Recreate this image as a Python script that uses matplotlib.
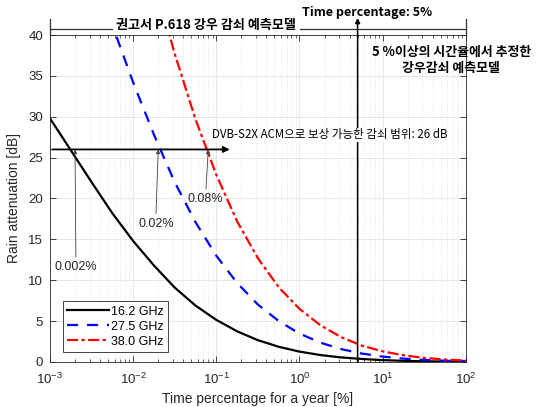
import numpy as np
import matplotlib
matplotlib.use('Agg')
import matplotlib.pyplot as plt
from matplotlib.ticker import LogLocator, NullFormatter

# time percentage of an average year [%]
time_pct = [0.001, 0.00178, 0.00316, 0.00562, 0.01, 0.0178, 0.0316, 0.0562,
            0.1, 0.178, 0.316, 0.562, 1, 1.78, 3.16, 5.62, 10, 17.8, 31.6, 56.2, 100]
# rain attenuation [dB] per carrier frequency
att_16g = [29.8, 25.9, 22.0, 18.2, 14.8, 11.8, 9.1, 6.9, 5.15, 3.75, 2.67, 1.86,
           1.27, 0.85, 0.56, 0.37, 0.23, 0.14, 0.08, 0.05, 0.03]
att_27g = [63.4, 56.1, 48.6, 41.2, 34.2, 27.8, 22.0, 17.1, 13.0, 9.66, 7.03, 5.01,
           3.48, 2.37, 1.58, 1.03, 0.66, 0.41, 0.25, 0.15, 0.09]
att_38g = [100.2, 89.9, 78.9, 67.8, 57.0, 46.9, 37.7, 29.7, 22.9, 17.2, 12.7, 9.15,
           6.5, 4.5, 3.05, 2.0, 1.3, 0.82, 0.5, 0.3, 0.18]
freq_labels = ['16.2 GHz', '27.5 GHz', '38.0 GHz']

acm_range = 26          # dB covered by DVB-S2X ACM
cross_pct = [0.002, 0.02, 0.08]
cross_text = ['0.002%', '0.02%', '0.08%']
model_limit = 5         # % boundary between the two models

LATIN = ['Liberation Sans', 'DejaVu Sans']
KOR = ['Noto Sans CJK KR', 'DejaVu Sans']
DARK = '#262626'

plt.rcParams['font.family'] = LATIN
plt.rcParams['axes.edgecolor'] = DARK
plt.rcParams['xtick.color'] = DARK
plt.rcParams['ytick.color'] = DARK

fig = plt.figure(figsize=(5.41, 4.07), dpi=100)
ax = fig.add_axes([0.0924, 0.1106, 0.7686, 0.8034])

ax.plot(time_pct, att_16g, color='black', lw=1.6, label=freq_labels[0])
ax.plot(time_pct, att_27g, color='blue', lw=1.6, ls=(0, (5, 4)), label=freq_labels[1])
ax.plot(time_pct, att_38g, color='red', lw=1.6, ls=(0, (5, 1.5, 1.5, 1.5)), label=freq_labels[2])

ax.set_xscale('log')
ax.set_xlim(1e-3, 1e2)
ax.set_ylim(0, 40)
ax.set_yticks(np.arange(0, 41, 5))
ax.xaxis.set_major_locator(LogLocator(base=10, numticks=10))
ax.xaxis.set_minor_locator(LogLocator(base=10, subs=np.arange(2, 10), numticks=20))
ax.xaxis.set_minor_formatter(NullFormatter())
ax.tick_params(which='both', direction='in', top=True, right=True, labelsize=9.5)
ax.tick_params(which='major', length=4, width=0.6)
ax.tick_params(which='minor', length=2, width=0.5)
ax.tick_params(axis='x', which='major', pad=7)
ax.tick_params(axis='y', which='major', pad=5)
for sp in ax.spines.values():
    sp.set_linewidth(0.6)

ax.grid(which='major', color='#e3e3e3', lw=0.6)
ax.grid(which='minor', axis='x', color='#d0d0d0', lw=0.5, ls=(0, (1, 2.5)))
ax.set_axisbelow(True)

ax.set_xlabel('Time percentage for a year [%]', fontsize=10, color=DARK, labelpad=4)
ax.set_ylabel('Rain attenuation [dB]', fontsize=10, color=DARK, labelpad=5)

leg = ax.legend(loc='lower left', bbox_to_anchor=(0.031, 0.03), borderaxespad=0,
                fancybox=False, edgecolor=DARK, framealpha=1, fontsize=9,
                handlelength=3.3, handletextpad=0.2, borderpad=0.35, labelspacing=0.25)
leg.get_frame().set_linewidth(0.6)

# ACM compensation level
ax.annotate('', xy=(0.145, acm_range), xytext=(0.00106, acm_range),
            arrowprops=dict(arrowstyle='-|>', color='black', lw=1.3, mutation_scale=9,
                            shrinkA=0, shrinkB=0))
ax.text(0.088, 27.8, 'DVB-S2X ACM으로 보상 가능한 감쇠 범위: 26 dB', family=KOR,
        fontsize=8.3, ha='left', va='center', color='black',
        bbox=dict(facecolor='white', edgecolor='none', pad=0.5), zorder=5)

# crossing points labelled below the ACM line
label_pos = [(0.00205, 11.6), (0.01875, 16.9), (0.0746, 19.9)]
for pct, txt, (tx, ty) in zip(cross_pct, cross_text, label_pos):
    ax.annotate(txt, xy=(pct, acm_range), xytext=(tx, ty), fontsize=9, color=DARK,
                ha='center', va='center',
                arrowprops=dict(arrowstyle='-|>', color='#444444', lw=0.6,
                                mutation_scale=6, shrinkA=1, shrinkB=0,
                                relpos=(0.5, 1.0)))

# 5 % boundary line running above the axes
ax.annotate('', xy=(model_limit, 1.052), xytext=(model_limit, 0),
            xycoords=('data', 'axes fraction'),
            arrowprops=dict(arrowstyle='-|>', color='black', lw=1.1, mutation_scale=7,
                            shrinkA=0, shrinkB=0), annotation_clip=False)
fig.text(0.678, 0.970, 'Time percentage: 5%', family=KOR, fontsize=9,
         fontweight='bold', ha='center', va='center')

# bracket for the P.618 model range
bracket_y = 1.018
ax.plot([0, 1], [bracket_y, bracket_y], transform=ax.transAxes, color='#333333',
        lw=0.9, clip_on=False)
for bx in (0, 1):
    ax.plot([bx, bx], [1.0, 1.049], transform=ax.transAxes, color='#333333',
            lw=0.9, clip_on=False)
fig.text(0.381, 0.939, '권고서 P.618 강우 감쇠 예측모델', family=KOR, fontsize=9.4,
         fontweight='bold', ha='center', va='center',
         bbox=dict(facecolor='white', edgecolor='none', pad=2.5))

fig.text(0.834, 0.853, '5 %이상의 시간율에서 추정한\n강우감쇠 예측모델', family=KOR,
         fontsize=9.3, fontweight='bold', ha='center', va='center', linespacing=1.2)

fig.savefig('out.png', dpi=100)
